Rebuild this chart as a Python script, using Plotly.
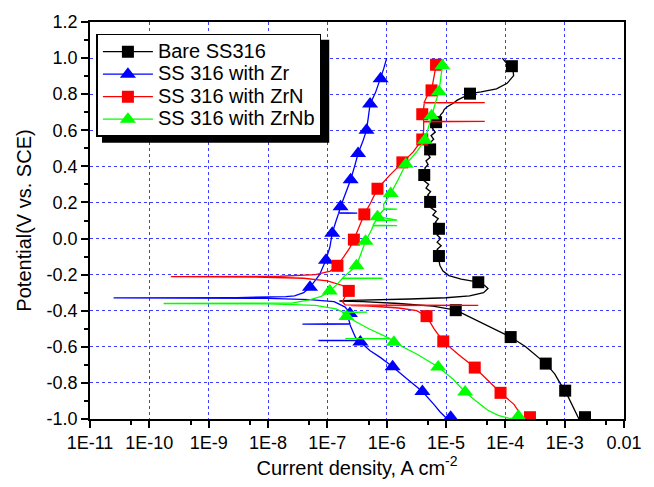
import plotly.graph_objects as go

# ---------------- data (current density in A/cm2, potential in V vs SCE) ----------------
bare_V = [-1.0, -0.95, -0.9, -0.843, -0.8, -0.75, -0.693, -0.65, -0.6, -0.546, -0.5, -0.45, -0.397,
          -0.375, -0.36, -0.35, -0.346, -0.343, -0.34, -0.335, -0.328, -0.318, -0.3, -0.277, -0.26,
          -0.242, -0.225, -0.205, -0.18, -0.15, -0.12, -0.097, -0.08, -0.06, -0.04, -0.02, 0.0, 0.02,
          0.04, 0.054, 0.07, 0.09, 0.11, 0.13, 0.15, 0.17, 0.19, 0.203, 0.22, 0.24, 0.26, 0.28, 0.30,
          0.32, 0.34, 0.352, 0.37, 0.39, 0.41, 0.43, 0.45, 0.47, 0.494, 0.51, 0.53, 0.55, 0.57, 0.59,
          0.61, 0.63, 0.645, 0.665, 0.685, 0.70, 0.715, 0.73, 0.75, 0.767, 0.785, 0.803, 0.813, 0.83,
          0.86, 0.903, 0.93, 0.955, 0.98, 1.0]
bare_I = [1.74e-3, 1.48e-3, 1.26e-3, 1.02e-3, 8.3e-4, 6.8e-4, 4.8e-4, 3.4e-4, 2.2e-4, 1.23e-4, 6.3e-5,
          3.2e-5, 1.46e-5, 6.0e-6, 1.6e-6, 4.0e-7, 1.6e-7, 2.5e-7, 7.0e-7, 2.5e-6, 1.0e-5, 2.5e-5,
          4.3e-5, 5.1e-5, 4.5e-5, 3.5e-5, 1.8e-5, 1.12e-5, 8.9e-6, 7.9e-6, 7.6e-6, 7.6e-6, 8.3e-6,
          7.1e-6, 8.3e-6, 7.1e-6, 8.1e-6, 7.1e-6, 8.1e-6, 7.6e-6, 7.9e-6, 6.6e-6, 7.4e-6, 6.0e-6,
          6.8e-6, 5.6e-6, 6.3e-6, 5.4e-6, 5.8e-6, 4.9e-6, 5.5e-6, 4.6e-6, 5.1e-6, 4.3e-6, 4.8e-6,
          4.3e-6, 4.7e-6, 4.4e-6, 5.0e-6, 4.6e-6, 5.4e-6, 4.9e-6, 5.4e-6, 6.0e-6, 5.4e-6, 6.2e-6,
          5.6e-6, 6.6e-6, 5.9e-6, 6.9e-6, 6.8e-6, 7.6e-6, 8.1e-6, 8.9e-6, 9.3e-6, 1.05e-5, 1.32e-5,
          1.55e-5, 2.0e-5, 2.54e-5, 3.9e-5, 7.1e-5, 1.07e-4, 1.38e-4, 1.35e-4, 1.2e-4, 1.0e-4, 8.9e-5]
bare_mV = [-0.99, -0.843, -0.693, -0.546, -0.397, -0.242, -0.097, 0.054, 0.203, 0.352, 0.494, 0.645, 0.803, 0.955]
bare_mI = [2.2e-3, 1.02e-3, 4.8e-4, 1.23e-4, 1.46e-5, 3.5e-5, 7.6e-6, 7.6e-6, 5.4e-6, 4.3e-6, 5.4e-6, 6.8e-6, 2.54e-5, 1.29e-4]

zr_V = [-1.0, -0.96, -0.92, -0.848, -0.78, -0.71, -0.66, -0.62, -0.573, -0.566, -0.565, -0.563, -0.55,
        -0.52, -0.49, -0.475, -0.474, -0.472, -0.45, -0.415, -0.38, -0.35, -0.338, -0.331, -0.329,
        -0.327, -0.322, -0.318, -0.3, -0.27, -0.2, -0.124, -0.05, 0.03, 0.1, 0.14, 0.141, 0.143, 0.176,
        0.25, 0.326, 0.4, 0.471, 0.54, 0.6, 0.67, 0.745, 0.81, 0.885, 0.94, 1.0]
zr_I = [1.05e-5, 7.9e-6, 6.3e-6, 4.0e-6, 2.24e-6, 1.26e-6, 7.9e-7, 5.2e-7, 3.6e-7, 3.5e-7, 7.1e-8, 3.4e-7,
        3.0e-7, 2.7e-7, 2.5e-7, 2.4e-7, 3.8e-8, 2.4e-7, 2.3e-7, 2.4e-7, 2.0e-7, 1.3e-7, 5.0e-8,
        1.0e-8, 2.5e-11, 3.0e-9, 2.0e-8, 2.8e-8, 4.0e-8, 5.1e-8, 7.4e-8, 9.3e-8, 1.1e-7, 1.21e-7,
        1.41e-7, 1.55e-7, 3.2e-7, 1.56e-7, 1.67e-7, 2.04e-7, 2.47e-7, 2.88e-7, 3.3e-7, 3.98e-7,
        4.57e-7, 4.9e-7, 5.25e-7, 6.5e-7, 7.9e-7, 8.9e-7, 1.0e-6]
zr_mV = [-0.99, -0.848, -0.71, -0.573, -0.415, -0.27, -0.12, 0.03, 0.176, 0.326, 0.471, 0.6, 0.745, 0.885]
zr_mI = [1.2e-5, 4.0e-6, 1.26e-6, 3.6e-7, 2.4e-7, 5.1e-8, 9.5e-8, 1.21e-7, 1.67e-7, 2.47e-7, 3.3e-7, 4.57e-7, 5.25e-7, 7.9e-7]

zrn_V = [-1.0, -0.92, -0.855, -0.78, -0.715, -0.64, -0.57, -0.5, -0.43, -0.40, -0.385, -0.375, -0.372,
         -0.370, -0.368, -0.35, -0.32, -0.29, -0.26, -0.235, -0.22, -0.213, -0.211, -0.209, -0.2, -0.18,
         -0.15, -0.1, -0.05, -0.006, 0.06, 0.134, 0.2, 0.276, 0.35, 0.422, 0.48, 0.549, 0.6, 0.647,
         0.649, 0.651, 0.689, 0.72, 0.751, 0.753, 0.755, 0.79, 0.821, 0.9, 0.963, 0.98]
zrn_I = [2.04e-4, 1.41e-4, 8.3e-5, 4.8e-5, 3.05e-5, 1.58e-5, 9.0e-6, 6.3e-6, 4.7e-6, 3.2e-6, 1.6e-6,
         5.0e-7, 2.5e-7, 3.5e-5, 2.0e-7, 1.8e-7, 2.0e-7, 2.3e-7, 1.8e-7, 1.0e-7, 4.0e-8, 6.3e-9,
         2.3e-10, 1.6e-8, 6.3e-8, 1.12e-7, 1.48e-7, 1.9e-7, 2.4e-7, 2.8e-7, 3.4e-7, 4.2e-7, 5.4e-7,
         7.0e-7, 1.12e-6, 1.84e-6, 2.8e-6, 3.98e-6, 4.2e-6, 4.2e-6, 4.5e-5, 4.2e-6, 3.98e-6, 4.2e-6,
         4.3e-6, 4.5e-5, 4.3e-6, 4.8e-6, 5.7e-6, 6.3e-6, 6.8e-6, 7.0e-6]
zrn_mV = [-0.99, -0.855, -0.715, -0.57, -0.43, -0.29, -0.151, -0.006, 0.134, 0.276, 0.422, 0.549, 0.689, 0.821, 0.963]
zrn_mI = [2.6e-4, 8.3e-5, 3.05e-5, 9.0e-6, 4.7e-6, 2.3e-7, 1.48e-7, 2.8e-7, 4.2e-7, 7.0e-7, 1.84e-6, 3.98e-6, 3.98e-6, 5.7e-6, 6.8e-6]

zrnb_V = [-1.0, -0.995, -0.98, -0.95, -0.9, -0.851, -0.78, -0.712, -0.64, -0.575, -0.556, -0.555,
          -0.553, -0.5, -0.45, -0.432, -0.41, -0.408, -0.406, -0.39, -0.37, -0.362, -0.36, -0.358,
          -0.34, -0.32, -0.29, -0.25, -0.222, -0.22, -0.218, -0.151, -0.08, -0.015, 0.05, 0.07, 0.072,
          0.074, 0.1, 0.102, 0.121, 0.161, 0.163, 0.165, 0.19, 0.249, 0.33, 0.412, 0.48, 0.545, 0.61,
          0.68, 0.75, 0.813, 0.89, 0.958, 0.994]
zrnb_I = [1.6e-4, 1.12e-4, 7.6e-5, 5.0e-5, 3.2e-5, 2.1e-5, 1.32e-5, 7.4e-6, 3.2e-6, 1.32e-6, 1.15e-6,
          2.0e-7, 1.12e-6, 5.0e-7, 2.6e-7, 2.1e-7, 1.8e-7, 4.7e-7, 1.8e-7, 1.4e-7, 6.3e-8, 1.0e-8,
          1.74e-10, 2.5e-8, 5.0e-8, 7.9e-8, 1.1e-7, 1.5e-7, 1.78e-7, 8.5e-7, 1.8e-7, 3.1e-7, 3.7e-7,
          4.4e-7, 5.6e-7, 5.9e-7, 1.5e-6, 5.9e-7, 6.6e-7, 1.5e-6, 7.0e-7, 9.0e-7, 1.5e-6, 9.0e-7,
          8.9e-7, 1.17e-6, 1.58e-6, 2.1e-6, 3.2e-6, 4.4e-6, 5.0e-6, 5.7e-6, 6.6e-6, 7.6e-6, 8.1e-6,
          8.7e-6, 9.1e-6]
zrnb_mV = [-0.985, -0.851, -0.712, -0.575, -0.432, -0.29, -0.151, -0.015, 0.121, 0.249, 0.412, 0.545, 0.68, 0.813, 0.958]
zrnb_mI = [1.66e-4, 2.1e-5, 7.4e-6, 1.32e-6, 2.1e-7, 1.1e-7, 3.1e-7, 4.4e-7, 7.0e-7, 1.17e-6, 2.1e-6, 4.4e-6, 5.7e-6, 7.6e-6, 8.7e-6]

names = ["Bare SS316", "SS 316 with Zr", "SS 316 with ZrN", "SS 316 with ZrNb"]
colors = ["#000000", "#0000ff", "#ff0000", "#00ff00"]
symbols = ["square", "triangle-up", "square", "triangle-up"]
msizes = [12, 14, 12, 14]

x_tickvals = [1e-11, 1e-10, 1e-9, 1e-8, 1e-7, 1e-6, 1e-5, 1e-4, 1e-3, 1e-2]
x_ticktext = ["1E-11", "1E-10", "1E-9", "1E-8", "1E-7", "1E-6", "1E-5", "1E-4", "1E-3", "0.01"]
x_minor = [5e-11, 5e-10, 5e-9, 5e-8, 5e-7, 5e-6, 5e-5, 5e-4, 5e-3]
y_tickvals = [-1.0, -0.8, -0.6, -0.4, -0.2, 0.0, 0.2, 0.4, 0.6, 0.8, 1.0, 1.2]
y_ticktext = ["-1.0", "-0.8", "-0.6", "-0.4", "-0.2", "0.0", "0.2", "0.4", "0.6", "0.8", "1.0", "1.2"]

series = [(bare_I, bare_V, bare_mI, bare_mV), (zr_I, zr_V, zr_mI, zr_mV),
          (zrn_I, zrn_V, zrn_mI, zrn_mV), (zrnb_I, zrnb_V, zrnb_mI, zrnb_mV)]

fig = go.Figure()
for i, (lI, lV, mI, mV) in enumerate(series):
    fig.add_trace(go.Scatter(x=lI, y=lV, mode="lines", line=dict(color=colors[i], width=1.3),
                             showlegend=False, hoverinfo="skip"))
    fig.add_trace(go.Scatter(x=mI, y=mV, mode="markers",
                             marker=dict(symbol=symbols[i], size=msizes[i], color=colors[i], line=dict(width=0)),
                             showlegend=False))
for i in range(4):
    fig.add_trace(go.Scatter(x=[None], y=[None], mode="lines+markers",
                             name="<span style='font-size:20px'>" + names[i] + "</span>",
                             line=dict(color=colors[i], width=1.3),
                             marker=dict(symbol=symbols[i], size=msizes[i], color=colors[i], line=dict(width=0))))

font_family = "Liberation Sans, Arial, sans-serif"
grid = dict(showgrid=True, gridcolor="#3d3dff", gridwidth=1, griddash="dot")

fig.update_layout(
    width=654, height=487,
    margin=dict(l=90, r=30, t=17, b=67),
    paper_bgcolor="white", plot_bgcolor="white",
    font=dict(family=font_family, size=18, color="black"),
    xaxis=dict(type="log", range=[-11, -2], tickmode="array", tickvals=x_tickvals, ticktext=x_ticktext,
               ticks="outside", ticklen=7, tickwidth=1.5, tickcolor="black",
               showline=True, linecolor="black", linewidth=1.5, mirror=True, zeroline=False,
               minor=dict(tickmode="array", tickvals=x_minor, ticks="outside", ticklen=4, tickcolor="black", showgrid=False),
               title=dict(text="Current density, A cm<sup>-2</sup>", font=dict(size=20), standoff=8),
               **grid),
    yaxis=dict(range=[-1.0, 1.2], tickmode="array", tickvals=y_tickvals, ticktext=y_ticktext,
               ticks="outside", ticklen=7, tickwidth=1.5, tickcolor="black",
               showline=True, linecolor="black", linewidth=1.5, mirror=True, zeroline=False,
               minor=dict(dtick=0.1, tick0=0, ticks="outside", ticklen=4, tickcolor="black", showgrid=False),
               title=dict(text="Potential(V vs. SCE)", font=dict(size=20), standoff=10),
               **grid),
    legend=dict(x=0.012, y=0.970, xanchor="left", yanchor="top", bgcolor="white",
                bordercolor="black", borderwidth=1.5, font=dict(size=15), tracegroupgap=0,
                itemwidth=50),
    shapes=[dict(type="rect", xref="paper", yref="paper", x0=0.0225, x1=0.448, y0=0.696, y1=0.955,
                 fillcolor="black", line=dict(width=0), layer="above")],
)

fig.write_html("out.html")
